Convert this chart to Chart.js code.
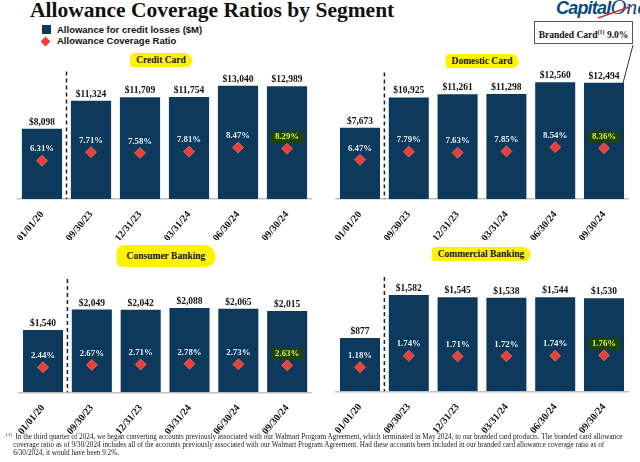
<!DOCTYPE html>
<html>
<head>
<meta charset="utf-8">
<script src="https://cdn.jsdelivr.net/npm/chart.js@4"></script>
<style>
  body { margin: 0; background: #fff; }
  #page { position: relative; width: 640px; height: 462px; overflow: hidden; font-family: "Liberation Serif", serif; }
  canvas { position: absolute; }
  .abs { position: absolute; white-space: nowrap; }
  .ptitle { position: absolute; transform: translate(-50%, -50%); font: bold 9.5px "Liberation Serif", serif; color: #111; background: #fff200; padding: 2px 6px; border-radius: 6px 10px 8px 4px; }
  .leg { position: absolute; font: bold 9.5px "Liberation Sans", Arial, sans-serif; color: #111; white-space: nowrap; }
</style>
</head>
<body>
<div id="page">
  <div class="abs" style="left:30px; top:-2px; font: bold 21.5px 'Liberation Serif', serif; color:#111;">Allowance Coverage Ratios by Segment</div>
  <div class="abs" style="left:556px; top:-6px; font: bold italic 18px 'Liberation Sans', Arial, sans-serif; color:#0b4a7a; letter-spacing:-0.8px;">Capital<span style="font-weight:normal; font-family:'Liberation Serif', serif; font-size:22px; letter-spacing:0">One</span></div>
  <svg class="abs" style="left:0; top:0" width="640" height="462">
    <path d="M598 18 Q 612 13 632 6" stroke="#d03030" stroke-width="1.4" fill="none"/>
    <line x1="633" y1="45" x2="623" y2="83" stroke="#333" stroke-width="1"/>
  </svg>

  <div class="abs" style="left:42px; top:25px; width:9px; height:9px; background:#0d3a5c;"></div>
  <div class="leg" style="left:57px; top:24px;">Allowance for credit losses ($M)</div>
  <div class="abs" style="left:42px; top:38px; width:7px; height:7px; background:#e8403a; transform:rotate(45deg);"></div>
  <div class="leg" style="left:57px; top:35px;">Allowance Coverage Ratio</div>

  <div class="abs" style="left:534px; top:21px; width:99px; height:23px; border:1px solid #555; box-sizing:border-box; font: bold 9.5px 'Liberation Serif', serif; color:#111; text-align:center; line-height:21px;">Branded Card<sup style="font-size:6px">(1)</sup> 9.0%</div>

  <span class="ptitle" style="left:161px; top:60px;">Credit Card</span>
  <span class="ptitle" style="left:482px; top:61px;">Domestic Card</span>
  <span class="ptitle" style="left:166px; top:256px; padding:6px 10px; border-radius:10px 16px 14px 8px;">Consumer Banking</span>
  <span class="ptitle" style="left:481px; top:254px;">Commercial Banking</span>

  <canvas id="c1"></canvas>
  <canvas id="c2"></canvas>
  <canvas id="c3"></canvas>
  <canvas id="c4"></canvas>

  <div class="abs" style="left:6px; top:431px; font: 7.2px 'Liberation Serif', serif; color:#222; line-height:8px;">
    <sup style="font-size:5px">(1)</sup>&nbsp; In the third quarter of 2024, we began converting accounts previously associated with our Walmart Program Agreement, which terminated in May 2024, to our branded card products. The branded card allowance<br>
    &nbsp;&nbsp;&nbsp;&nbsp;coverage ratio as of 9/30/2024 includes all of the accounts previously associated with our Walmart Program Agreement. Had these accounts been included in our branded card allowance coverage ratio as of<br>
    &nbsp;&nbsp;&nbsp;&nbsp;6/30/2024, it would have been 9.2%.
  </div>
</div>

<script>
const periodos = ['01/01/20', '09/30/23', '12/31/23', '03/31/24', '06/30/24', '09/30/24']

const creditCardAllowance = [8098, 11324, 11709, 11754, 13040, 12989]
const creditCardRatio = [6.31, 7.71, 7.58, 7.81, 8.47, 8.29]

const domesticCardAllowance = [7673, 10925, 11261, 11298, 12560, 12494]
const domesticCardRatio = [6.47, 7.79, 7.63, 7.85, 8.54, 8.36]

const consumerAllowance = [1540, 2049, 2042, 2088, 2065, 2015]
const consumerRatio = [2.44, 2.67, 2.71, 2.78, 2.73, 2.63]

const commercialAllowance = [877, 1582, 1545, 1538, 1544, 1530]
const commercialRatio = [1.18, 1.74, 1.71, 1.72, 1.74, 1.76]

const azul = '#0d3a5c'
const rojo = '#e8403a'

// etiquetas de valores y linea punteada
const etiquetas = {
  id: 'etiquetas',
  afterDatasetsDraw(chart) {
    const ctx = chart.ctx
    const area = chart.chartArea
    const x = chart.scales.x
    // linea punteada entre 01/01/20 y 09/30/23
    const xs = (x.getPixelForValue(0) + x.getPixelForValue(1)) / 2
    ctx.save()
    ctx.strokeStyle = '#222'
    ctx.lineWidth = 1.5
    ctx.setLineDash([4, 3])
    ctx.beginPath()
    ctx.moveTo(xs, area.top)
    ctx.lineTo(xs, area.bottom)
    ctx.stroke()
    ctx.setLineDash([])

    ctx.textAlign = 'center'
    ctx.textBaseline = 'alphabetic'
    ctx.font = 'bold 9.5px "Liberation Serif"'
    ctx.fillStyle = '#111'
    const barras = chart.getDatasetMeta(0).data
    const montos = chart.data.datasets[0].data
    barras.forEach((b, i) => {
      ctx.fillText('$' + montos[i].toLocaleString('en-US'), b.x, b.y - 4)
    })

    ctx.font = 'bold 8.8px "Liberation Serif"'
    ctx.textBaseline = 'middle'
    const puntos = chart.getDatasetMeta(1).data
    const tasas = chart.data.datasets[1].data
    puntos.forEach((p, i) => {
      const txt = tasas[i].toFixed(2) + '%'
      const ty = p.y - 11.5
      if (i === puntos.length - 1) {
        const w = ctx.measureText(txt).width
        ctx.fillStyle = '#1d4410'
        ctx.fillRect(p.x - w / 2 - 4, ty - 6, w + 8, 12)
        ctx.fillStyle = '#d8f040'
      } else {
        ctx.fillStyle = '#e4ecf4'
      }
      ctx.fillText(txt, p.x, ty)
    })
    ctx.restore()
  }
}

function crearGrafica(id, montos, tasas, caja) {
  const el = document.getElementById(id)
  el.style.left = caja.left + 'px'
  el.style.top = caja.top + 'px'
  el.style.width = caja.w + 'px'
  el.style.height = caja.h + 'px'
  el.width = caja.w
  el.height = caja.h
  return new Chart(el, {
    type: 'bar',
    data: {
      labels: periodos,
      datasets: [
        {
          type: 'bar',
          data: montos,
          backgroundColor: azul,
          categoryPercentage: 1,
          barPercentage: 0.82,
          yAxisID: 'y',
          order: 2
        },
        {
          type: 'line',
          data: tasas,
          showLine: false,
          pointStyle: 'rectRot',
          pointRadius: 5.5,
          pointBackgroundColor: rojo,
          pointBorderColor: '#f06a5a',
          pointBorderWidth: 0.8,
          yAxisID: 'tasa',
          order: 1
        }
      ]
    },
    options: {
      responsive: false,
      animation: false,
      layout: { padding: { left: caja.pl, right: caja.pr, top: caja.pt, bottom: 0 } },
      plugins: { legend: { display: false }, tooltip: { enabled: false } },
      scales: {
        x: {
          offset: true,
          grid: { display: false },
          border: { color: '#c4c4c4', width: 1.5 },
          ticks: {
            color: '#111',
            font: { family: 'Liberation Serif', weight: 'bold', size: 10 },
            minRotation: 50,
            maxRotation: 50,
            padding: 2
          },
          afterFit: s => { s.height = caja.xh }
        },
        y: { display: false, min: 0, max: caja.ymax },
        tasa: { type: 'linear', axis: 'y', display: false, min: 0, max: caja.rmax, position: 'right' }
      }
    },
    plugins: [etiquetas]
  })
}

crearGrafica('c1', creditCardAllowance, creditCardRatio,
  { left: 0, top: 60, w: 320, h: 180, pl: 17.5, pr: 8.5, pt: 11.5, xh: 41, ymax: 14690, rmax: 21.0 })
crearGrafica('c2', domesticCardAllowance, domesticCardRatio,
  { left: 320, top: 60, w: 320, h: 180, pl: 15.6, pr: 11.6, pt: 12.5, xh: 41, ymax: 13600, rmax: 20.84 })
crearGrafica('c3', consumerAllowance, consumerRatio,
  { left: 0, top: 260, w: 320, h: 180, pl: 18.6, pr: 8.4, pt: 19, xh: 47.7, ymax: 2804, rmax: 11.05 })
crearGrafica('c4', commercialAllowance, commercialRatio,
  { left: 320, top: 260, w: 320, h: 180, pl: 15.6, pr: 11.6, pt: 17, xh: 48.7, ymax: 1877, rmax: 5.59 })
</script>
</body>
</html>
